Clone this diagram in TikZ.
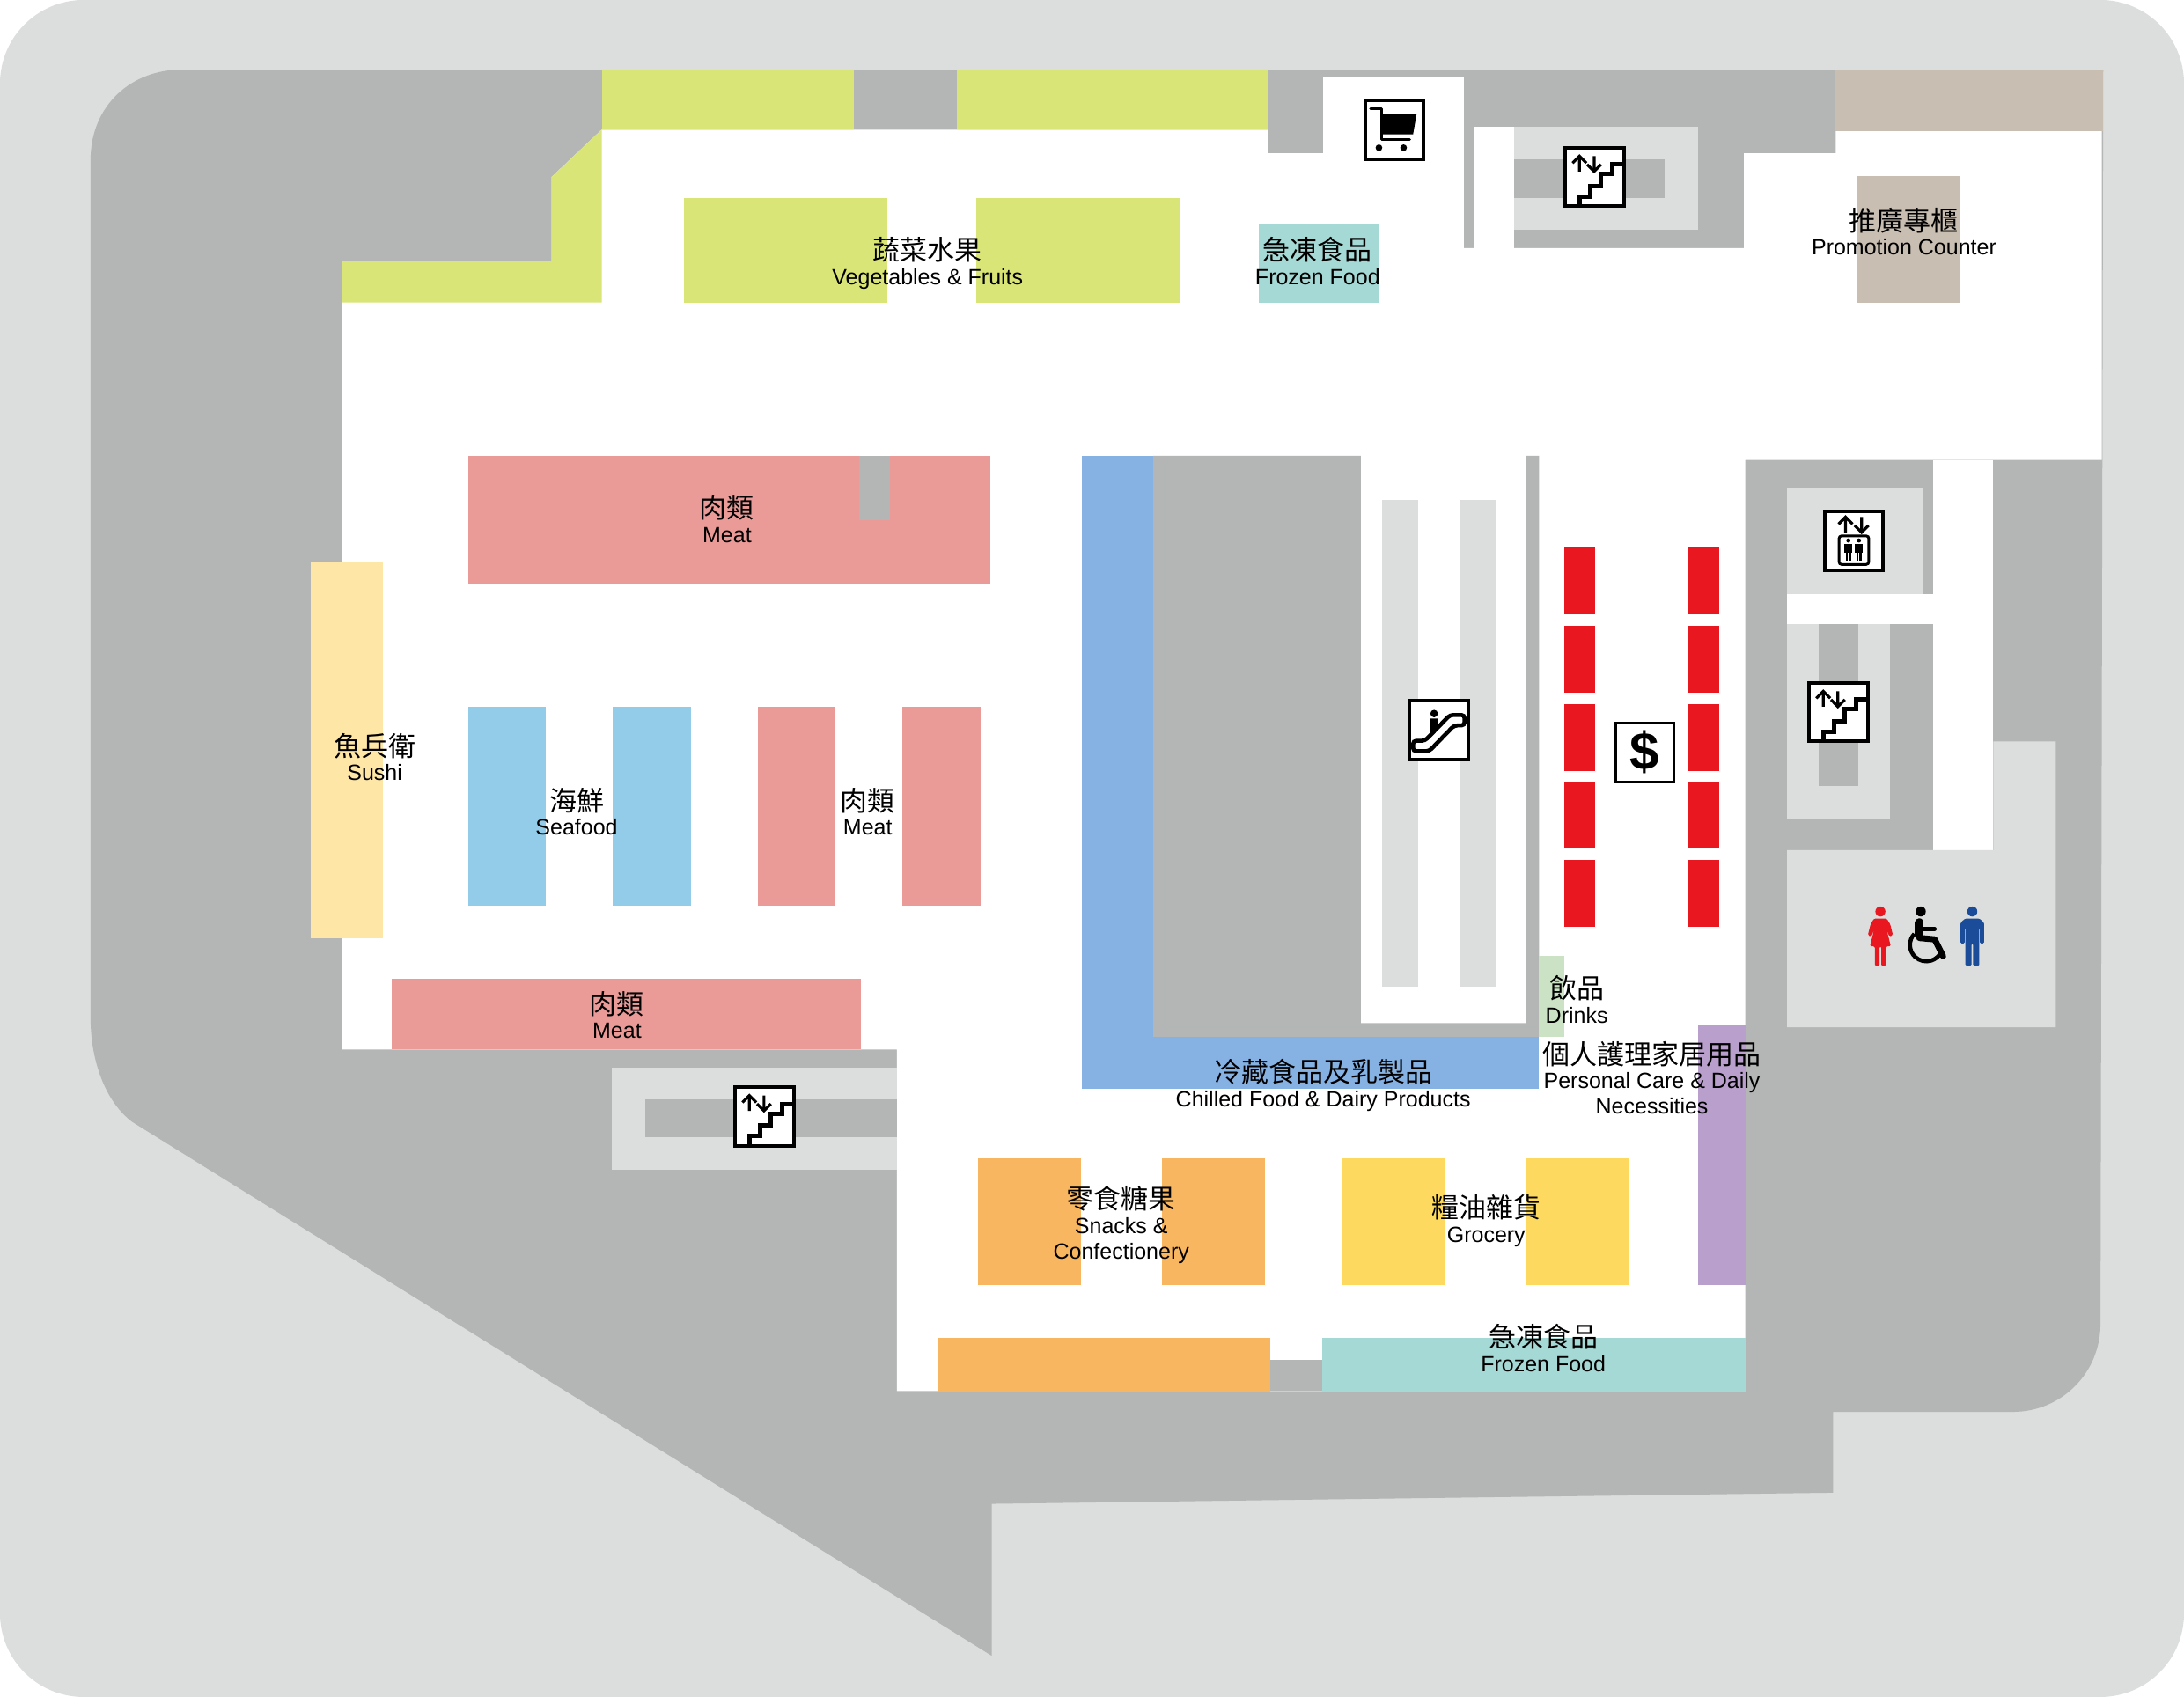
\documentclass[tikz,border=0pt]{standalone}
\usepackage{fontspec}
\setmainfont{Liberation Sans}
\newfontfamily\cjkfont{Noto Sans CJK TC}
\definecolor{outerg}{HTML}{DCDEDD}
\definecolor{darkg}{HTML}{B4B6B5}
\definecolor{lime}{HTML}{DAE577}
\definecolor{pinkm}{HTML}{EA9A97}
\definecolor{skyb}{HTML}{93CCE9}
\definecolor{chill}{HTML}{86B2E3}
\definecolor{sushi}{HTML}{FDE6A6}
\definecolor{orng}{HTML}{F8B660}
\definecolor{yell}{HTML}{FDD95F}
\definecolor{teal2}{HTML}{A5D9D5}
\definecolor{purp}{HTML}{B99FCB}
\definecolor{drnk}{HTML}{CBE2C4}
\definecolor{tan2}{HTML}{C8BEB1}
\definecolor{redc}{HTML}{E9171F}
\definecolor{manb}{HTML}{1A4C9A}
\newcommand{\rct}[5]{\fill[#1] (#2,#3) rectangle (#4,#5);}
\newcommand{\lab}[5]{%
  \node[cjklabel] (#1c) at (#2,#3+5.5) {#4};
  \node[latlabel] (#1l) at (#2,#3+23.5) {#5};}
\tikzset{
  cjklabel/.style={inner sep=0,font=\cjkfont\fontsize{31}{31}\selectfont,text height=0.8em,text depth=0.1em},
  latlabel/.style={inner sep=0,font=\fontsize{25}{25}\selectfont,text height=0.72em,text depth=0.2em},
  frm/.style={draw=black,fill=white,line width=4pt},
  ln/.style={draw=black,line width=5pt,line join=miter,line cap=butt},
  arr/.style={draw=black,line width=3.2pt,line join=miter},
  stepsline/.pic={
    \draw[frm] (-21,-21) rectangle (21,21);
    \draw[arr] (-11,-4) -- (-11,-15) (-16,-10) -- (-11,-15) -- (-6,-10);
    \draw[arr] (-0.5,-15) -- (-0.5,-4) (-5.5,-9) -- (-0.5,-4) -- (4.5,-9);
    \draw[ln] (-11,21) -- (-11,14) -- (-3,14) -- (-3,6.5) -- (4.6,6.5) -- (4.6,-2) -- (12.6,-2) -- (12.6,-9) -- (21,-9);
  },
  carticon/.pic={
    \draw[frm] (-21,-21) rectangle (21,21);
    \draw[draw=black,line width=3pt,line cap=round,line join=round] (-17,-15) -- (-9,-15) -- (-9,7) -- (11,7);
    \fill[black] (-8,-11) -- (16,-11) -- (13.5,3.4) -- (-8,3.4) -- cycle;
    \fill[black] (-11,13) circle (2.4) (6.7,13) circle (2.4);
  },
  lifticon/.pic={
    \draw[frm] (-21,-21) rectangle (21,21);
    \draw[arr] (-6,-6) -- (-6,-17) (-11,-12) -- (-6,-17) -- (-1,-12);
    \draw[arr] (5.5,-17) -- (5.5,-6) (0.5,-11) -- (5.5,-6) -- (10.5,-11);
    \draw[draw=black,line width=3pt,rounded corners=3] (-10.7,-3.5) rectangle (10.7,17);
    \foreach \q in {-4,3.6}{
      \fill[black] (\q,-0.2) circle (1.5);
      \fill[black] (\q-2.8,2) rectangle (\q+2.8,8.5);
      \fill[black] (\q-1.8,8) rectangle (\q-0.2,14.5);
      \fill[black] (\q+0.2,8) rectangle (\q+1.8,14.5);
    }
  },
  escicon/.pic={
    \draw[frm] (-21,-21) rectangle (21,21);
    \fill[black] (-3.4,-12) circle (2.7);
    \fill[black] (-6,-8.5) -- (-0.8,-8.5) -- (-0.8,-3.5) -- (-6,1.8) -- cycle;
    \draw[draw=black,line width=4.6pt,rounded corners=3.6] (-14,15) -- (-7,15) -- (11,-3.5) -- (18.5,-3.5) -- (18.5,-11) -- (8,-11) -- (-10,7.5) -- (-18.5,7.5) -- (-18.5,15) -- cycle;
  },
  cashicon/.pic={
    \draw[draw=black,fill=white,line width=3pt] (-21,-21) rectangle (21,21);
    \node[inner sep=0,font=\bfseries\fontsize{60}{60}\selectfont] (cashsign) at (0,-0.5) {\$};
  }
}
\begin{document}
\begin{tikzpicture}[x=1.5823pt,y=-1.5835pt]
\useasboundingbox (0,0) rectangle (1568,1217.55);
\fill[white] (0,0) rectangle (1568,1217.55);
\fill[outerg,rounded corners=95pt] (0,0) rectangle (1568,1217.55);
% main grey building
\fill[darkg] (130,50) -- (1510,50) -- (1508,950) .. controls (1508,985) and (1480,1013) .. (1445,1013) -- (1316,1013) -- (1316,1071) -- (712,1079) -- (712,1188) -- (95,805) .. controls (75,790) and (65,760) .. (65,730) -- (65,115) .. controls (65,75) and (95,50) .. (130,50) -- cycle;
% white floor
\fill[white] (432,93) -- (910,93) -- (910,110) -- (950,110) -- (950,55) -- (1051,55) -- (1051,178) -- (1252,178) -- (1252,110) -- (1318,110) -- (1318,93) -- (1509,93) -- (1509,330) -- (1253,330) -- (1253,998) -- (644,998) -- (644,753) -- (246,753) -- (246,187) -- (396,187) -- (396,127) -- cycle;
\rct{white}{1058}{91}{1087}{178}
\rct{white}{1388}{330}{1431}{610}
\rct{white}{1283}{426}{1388}{448}
% top row
\rct{lime}{432}{50}{613}{93}
\rct{lime}{687}{50}{910}{93}
\fill[lime] (246,187) -- (396,187) -- (396,127) -- (432,93) -- (432,217) -- (246,217) -- cycle;
\rct{lime}{491}{142}{637}{217}
\rct{lime}{701}{142}{847}{217}
\rct{teal2}{904}{161}{990}{217}
\rct{tan2}{1318}{50}{1510}{94}
\rct{tan2}{1333}{126}{1407}{217}
% top stairs
\rct{outerg}{1087}{91}{1219}{165}
\rct{darkg}{1087}{114}{1195}{142}
% meat
\rct{pinkm}{336}{327}{711}{419}
\rct{darkg}{617}{327}{639}{373}
\rct{sushi}{223}{403}{275}{673}
\rct{skyb}{336}{507}{392}{650}
\rct{skyb}{440}{507}{496}{650}
\rct{pinkm}{544}{507}{600}{650}
\rct{pinkm}{648}{507}{704}{650}
\rct{pinkm}{281}{702}{618}{753}
% left stairs
\rct{outerg}{439}{766}{644}{839}
\rct{darkg}{463}{789}{644}{816}
% central core
\fill[darkg] (828,327) -- (977,327) -- (977,734) -- (1096,734) -- (1096,327) -- (1105,327) -- (1105,744) -- (828,744) -- cycle;
\rct{chill}{777}{327}{828}{744}
\rct{chill}{777}{744}{1105}{781}
\rct{outerg}{992}{359}{1018}{708}
\rct{outerg}{1048}{359}{1074}{708}
% checkouts
\foreach \yy in {393,449,505,561,617}{
  \rct{redc}{1123}{\yy}{1145}{\yy+48}
  \rct{redc}{1212}{\yy}{1234}{\yy+48}
}
\rct{drnk}{1105}{686}{1123}{744}
\rct{purp}{1219}{735}{1253}{922}
\rct{orng}{702}{831}{776}{922}
\rct{orng}{834}{831}{908}{922}
\rct{yell}{963}{831}{1038}{922}
\rct{yell}{1095}{831}{1169}{922}
\rct{darkg}{912}{976}{949}{998}
\rct{orng}{674}{960}{912}{999}
\rct{teal2}{949}{960}{1253}{999}
% right side
\rct{outerg}{1283}{350}{1380}{426}
\rct{outerg}{1283}{448}{1357}{588}
\rct{darkg}{1306}{448}{1334}{564}
\fill[outerg] (1283,610) -- (1431,610) -- (1431,532) -- (1476,532) -- (1476,737) -- (1283,737) -- cycle;
% icons
\pic at (1001,93) {carticon};
\pic at (1145,127) {stepsline};
\pic at (549,801) {stepsline};
\pic at (1320,511) {stepsline};
\pic at (1331,388) {lifticon};
\pic at (1033,524) {escicon};
\pic at (1181,540) {cashicon};
% woman
\fill[redc] (1350,654) circle (3.6);
\fill[redc,rounded corners=1.5] (1345.5,659) -- (1354.5,659) -- (1357,663) -- (1359,671) -- (1356.5,672) -- (1354.5,667) -- (1357.5,679) -- (1354,679) -- (1354,693) -- (1350.6,693) -- (1350.6,679) -- (1349.4,679) -- (1349.4,693) -- (1346,693) -- (1346,679) -- (1342.5,679) -- (1345.5,667) -- (1343.5,672) -- (1341,671) -- (1343,663) -- cycle;
% wheelchair
\fill[black] (1379,654) circle (3.6);
\draw[black,line width=10pt,line cap=round] (1378,662) -- (1378,671);
\draw[black,line width=7pt,line cap=round,line join=round] (1378,673) -- (1389,674) -- (1395,686);
\draw[black,line width=4.5pt,line cap=round] (1378,666.5) -- (1389,666.5);
\draw[black,line width=4.6pt] (1374.4,670) arc[start angle=137,end angle=335,radius=18.6pt];
% man
\fill[manb] (1416,654) circle (3.6);
\fill[manb,rounded corners=1.5] (1411,659) -- (1421,659) -- (1424.5,662) -- (1424.5,677) -- (1421.5,677) -- (1421.5,666) -- (1421,666) -- (1421,693) -- (1416.6,693) -- (1416.6,677) -- (1415.4,677) -- (1415.4,693) -- (1411,693) -- (1411,666) -- (1410.5,666) -- (1410.5,677) -- (1407.5,677) -- (1407.5,662) -- cycle;
% labels
\lab{veg}{666}{179}{蔬菜水果}{Vegetables \& Fruits}
\lab{frza}{946}{179}{急凍食品}{Frozen Food}
\lab{promo}{1367}{158}{推廣專櫃}{Promotion Counter}
\lab{meata}{522}{364}{肉類}{Meat}
\lab{sushi}{269}{535}{魚兵衛}{Sushi}
\lab{sea}{414}{574}{海鮮}{Seafood}
\lab{meatb}{623}{574}{肉類}{Meat}
\lab{meatc}{443}{720}{肉類}{Meat}
\lab{chill}{950}{769}{冷藏食品及乳製品}{Chilled Food \& Dairy Products}
\lab{drink}{1132}{709}{飲品}{Drinks}
\lab{care}{1186}{756}{個人護理家居用品}{Personal Care \& Daily}
\node[latlabel] (care2) at (1186,797.5) {Necessities};
\lab{snack}{805}{860}{零食糖果}{Snacks \&}
\node[latlabel] (snack2) at (805,901.5) {Confectionery};
\lab{groc}{1067}{866}{糧油雜貨}{Grocery}
\lab{frzb}{1108}{959}{急凍食品}{Frozen Food}
\end{tikzpicture}
\end{document}
